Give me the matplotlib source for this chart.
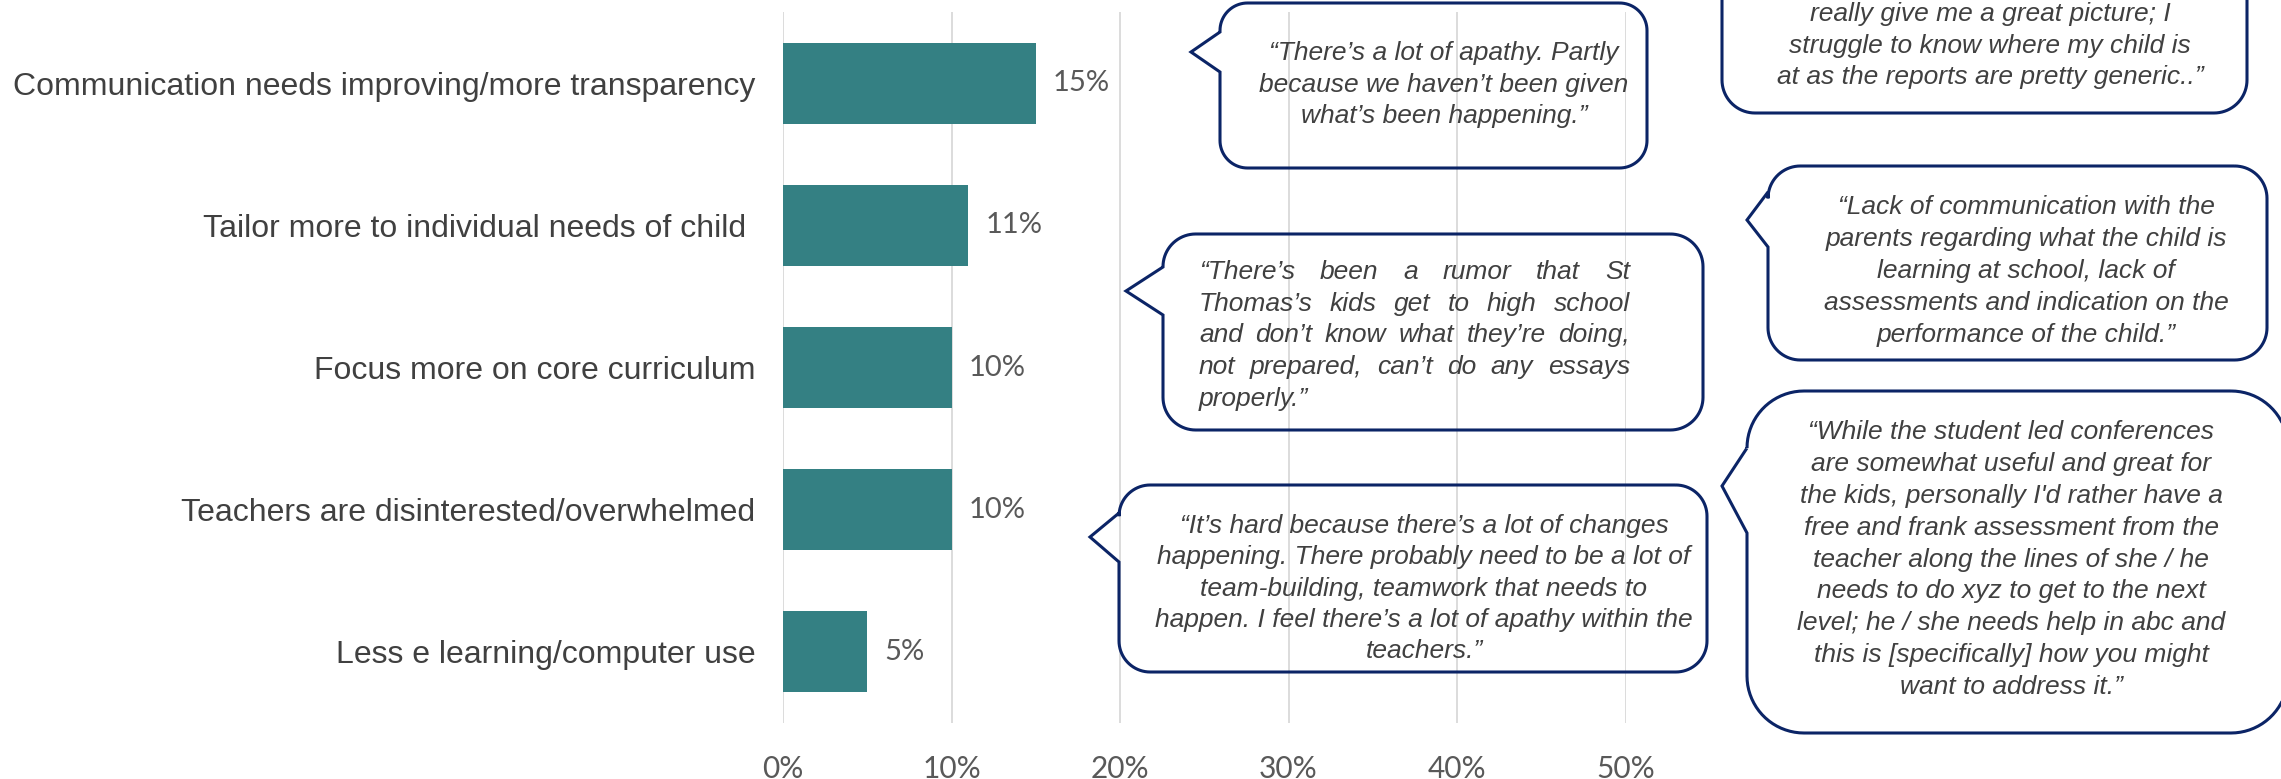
import matplotlib
matplotlib.use("Agg")
import matplotlib.pyplot as plt
import numpy as np
from matplotlib.path import Path
from matplotlib.patches import PathPatch
from matplotlib.transforms import Affine2D

# survey answers, top to bottom
categories = [
    "Communication needs improving/more transparency",
    "Tailor more to individual needs of child ",
    "Focus more on core curriculum",
    "Teachers are disinterested/overwhelmed",
    "Less e learning/computer use",
]
shares = [0.15, 0.11, 0.10, 0.10, 0.05]
x_ticks = [0.0, 0.1, 0.2, 0.3, 0.4, 0.5]
x_tick_labels = ["0%", "10%", "20%", "30%", "40%", "50%"]

# parent quotes, one list of lines per speech bubble
quote_apathy = ["“There’s a lot of apathy. Partly",
                "because we haven’t been given",
                "what’s been happening.”"]
quote_reports = ["really give me a great picture; I",
                 "struggle to know where my child is",
                 "at as the reports are pretty generic..”"]
quote_rumor = ["“There’s been a rumor that St",
               "Thomas’s kids get to high school",
               "and don’t know what they’re doing,",
               "not prepared, can’t do any essays",
               "properly.”"]
quote_lack = ["“Lack of communication with the",
              "parents regarding what the child is",
              "learning at school, lack of",
              "assessments and indication on the",
              "performance of the child.”"]
quote_changes = ["“It’s hard because there’s a lot of changes",
                 "happening. There probably need to be a lot of",
                 "team-building, teamwork that needs to",
                 "happen. I feel there’s a lot of apathy within the",
                 "teachers.”"]
quote_conferences = ["“While the student led conferences",
                     "are somewhat useful and great for",
                     "the kids, personally I'd rather have a",
                     "free and frank assessment from the",
                     "teacher along the lines of she / he",
                     "needs to do xyz to get to the next",
                     "level; he / she needs help in abc and",
                     "this is [specifically] how you might",
                     "want to address it.”"]

W, H = 2281, 779
BAR = "#348083"
NAVY = "#0b2466"
TXT = "#404040"
NUM = "#595959"
QSIZE = 19

fig = plt.figure(figsize=(W / 100, H / 100), dpi=100)
ax = fig.add_axes([783 / W, 1 - 723 / H, (1625.5 - 783) / W, (723 - 12) / H])

y = np.arange(len(categories))
ax.barh(y, shares, height=0.57, color=BAR, zorder=2)
for yi, v in zip(y, shares):
    ax.text(v + 0.01, yi, f"{v:.0%}", va="center", ha="left",
            fontsize=21, family="Lato", color=NUM)

ax.set_xlim(0, 0.5)
ax.set_ylim(len(categories) - 0.5, -0.5)
ax.set_yticks(y)
ax.set_yticklabels(categories, fontsize=23, family="Liberation Sans", color=TXT)
ax.set_xticks(x_ticks)
ax.set_xticklabels(x_tick_labels, fontsize=21.5, family="Lato", color=NUM)
ax.tick_params(axis="both", length=0)
ax.tick_params(axis="y", pad=20)
ax.tick_params(axis="x", pad=23)
ax.xaxis.grid(True, color="#d9d9d9", lw=1.3, zorder=0)
ax.set_axisbelow(True)
for s in ax.spines.values():
    s.set_visible(False)

# pixel coordinates, origin top-left
px = Affine2D().scale(1 / W, -1 / H).translate(0, 1) + fig.transFigure


def arc(cx, cy, r, a0, a1):
    t = np.radians(np.linspace(a0, a1, 20))
    return list(zip(cx + r * np.cos(t), cy + r * np.sin(t)))


def bubble(x0, y0, x1, y1, tip=None):
    r = 0.1667 * min(x1 - x0, y1 - y0)
    pts = []
    pts += arc(x1 - r, y0 + r, r, -90, 0)
    pts += arc(x1 - r, y1 - r, r, 0, 90)
    pts += arc(x0 + r, y1 - r, r, 90, 180)
    if tip is not None:
        tx, ty, b0, b1 = tip
        pts += [(x0, b1), (tx, ty), (x0, b0)]
    pts += arc(x0 + r, y0 + r, r, 180, 270)
    pts.append(pts[0])
    patch = PathPatch(Path(pts), facecolor="none", edgecolor=NAVY, lw=2.2,
                      transform=px, clip_on=False, zorder=5)
    fig.add_artist(patch)


def quote(lines, cx, y0, step):
    for i, line in enumerate(lines):
        fig.text(cx, y0 + i * step, line, transform=px, ha="center", va="baseline",
                 fontsize=QSIZE, style="italic", family="Liberation Sans", color=TXT)


def quote_justified(lines, left, right, y0, step):
    renderer = fig.canvas.get_renderer()
    for i, line in enumerate(lines):
        yy = y0 + i * step
        words = line.split()
        if i == len(lines) - 1 or len(words) < 2:
            fig.text(left, yy, line, transform=px, ha="left", va="baseline",
                     fontsize=QSIZE, style="italic", family="Liberation Sans", color=TXT)
            continue
        arts = [fig.text(0, yy, w, transform=px, ha="left", va="baseline",
                         fontsize=QSIZE, style="italic", family="Liberation Sans", color=TXT)
                for w in words]
        widths = [a.get_window_extent(renderer).width for a in arts]
        gap = (right - left - sum(widths)) / (len(words) - 1)
        x = left
        for a, wd in zip(arts, widths):
            a.set_x(x)
            x += wd + gap


bubble(1220, 3, 1647, 168, tip=(1191, 52, 32, 72))
quote(quote_apathy, 1444, 60, 31.7)

bubble(1722, -85, 2247, 113)
quote(quote_reports, 1990, 21, 31.6)

bubble(1163, 234, 1703, 430, tip=(1126, 291, 267, 315))
quote_justified(quote_rumor, 1199, 1630, 279, 31.7)

bubble(1768, 166, 2267, 360, tip=(1747, 220, 192, 247))
quote(quote_lack, 2026, 214, 32)

bubble(1119, 485, 1707, 672, tip=(1090, 537, 513, 562))
quote(quote_changes, 1424, 533, 31.3)

bubble(1747, 391, 2288, 733, tip=(1722, 486, 448, 533))
quote(quote_conferences, 2011, 439, 31.9)

fig.savefig("out.png", dpi=100)
